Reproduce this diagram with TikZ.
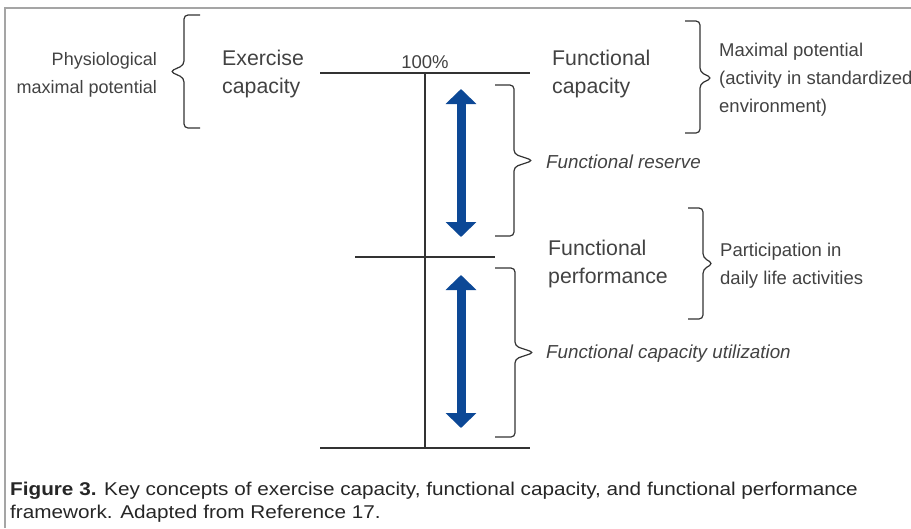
\documentclass[tikz,border=0pt]{standalone}
\usepackage{fontspec}
\setmainfont{Liberation Sans}
\newfontfamily\capfont{Liberation Sans}[FakeStretch=1.12]
\usetikzlibrary{arrows.meta}
\definecolor{arrowblue}{RGB}{12,72,150}
\definecolor{textgray}{RGB}{66,66,66}
\definecolor{framegray}{RGB}{165,165,165}

\begin{document}
\begin{tikzpicture}[x=1pt,y=-1pt]
	\tikzstyle{big}=[inner sep=0pt,anchor=west,align=left,text=textgray,font=\fontsize{21.3}{28}\selectfont]
	\tikzstyle{small}=[inner sep=0pt,anchor=west,align=left,text=textgray,font=\fontsize{18.5}{28}\selectfont]
	\tikzstyle{note}=[inner sep=0pt,anchor=west,text=textgray,font=\fontsize{18.8}{20}\selectfont\itshape]
	\tikzstyle{level}=[line width=1.3pt,draw=black!80]
	\tikzstyle{brace}=[line width=1.2pt,draw=black!80,rounded corners=4pt]
	\tikzstyle{span}=[line width=9pt,draw=arrowblue,{Triangle[width=30pt,length=15pt]}-{Triangle[width=30pt,length=15pt]}]
	\clip (0,0) rectangle (911,528);
	\draw [framegray,line width=2pt] (5,528) -- (5,8) -- (911,8);
	% labels
	\node (physio)  at (157,75)   [small,anchor=east,align=right,font=\fontsize{18}{28}\selectfont] {Physiological\\maximal potential};
	\node (exercise) at (222,74)  [big] {Exercise\\capacity};
	\node (full)    at (425,62)   [small,anchor=center] {100\%};
	\node (capacity) at (552,74)  [big] {Functional\\capacity};
	\node (maximal) at (719,80)   [small] {Maximal potential\\(activity in standardized\\environment)};
	\node (reserve) at (546,162)  [note] {Functional reserve};
	\node (perform) at (548,264)  [big] {Functional\\performance};
	\node (daily)   at (720,266)  [small] {Participation in\\daily life activities};
	\node (util)    at (546,354)  [note] {Functional capacity utilization};
	% levels
	\coordinate (top1) at (320,73);  \coordinate (top2) at (530,73);
	\coordinate (mid1) at (355,257); \coordinate (mid2) at (495,257);
	\coordinate (bot1) at (320,448); \coordinate (bot2) at (530,448);
	\coordinate (axtop) at (425,73); \coordinate (axbot) at (425,448);
	\draw [level] (top1) -- (top2);
	\draw [level] (mid1) -- (mid2);
	\draw [level] (bot1) -- (bot2);
	\draw [level] (axtop) -- (axbot);
	% arrows
	\coordinate (res1) at (461,89);  \coordinate (res2) at (461,237);
	\coordinate (use1) at (461,275); \coordinate (use2) at (461,428);
	\draw [span] (res1) -- (res2);
	\draw [span] (use1) -- (use2);
	% braces
	\draw [brace] (200,15) -- (184,15) -- (184,65) -- (170,71.5) -- (184,78) -- (184,128) -- (200,128);
	\draw [brace] (495,85) -- (514,85) -- (514,154) -- (533,160.5) -- (514,167) -- (514,236) -- (495,236);
	\draw [brace] (495,268) -- (515,268) -- (515,346) -- (534,352.5) -- (515,359) -- (515,437) -- (495,437);
	\draw [brace] (685,21) -- (700,21) -- (700,72) -- (712,78) -- (700,84) -- (700,133) -- (685,133);
	\draw [brace] (688,208) -- (703,208) -- (703,257.5) -- (713,263.5) -- (703,269.5) -- (703,319) -- (688,319);
	% caption
	\node (caption) at (10,482) [inner sep=0pt,anchor=north west,align=left,text=black!85,font=\capfont\fontsize{18.5}{23}\selectfont]
		{\textbf{Figure 3.} Key concepts of exercise capacity, functional capacity, and functional performance\\framework. Adapted from Reference 17.};
\end{tikzpicture}
\end{document}
